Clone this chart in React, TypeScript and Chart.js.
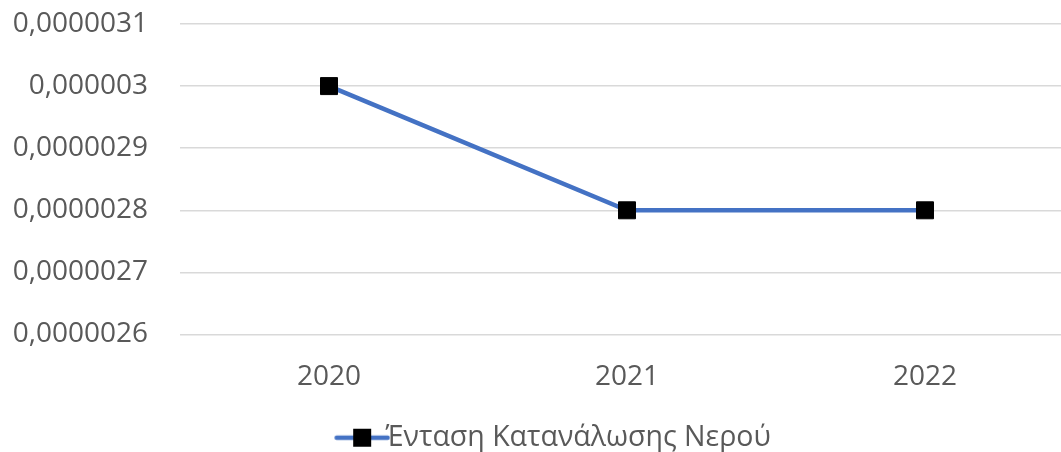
import React, { useEffect, useRef } from "react";
import { Chart, registerables } from "chart.js";

Chart.register(...registerables);

const categories = ["2020", "2021", "2022"];
const seriesName = "Ένταση Κατανάλωσης Νερού";
const seriesValues = [0.000003, 0.0000028, 0.0000028];
const yTicks = [0.0000026, 0.0000027, 0.0000028, 0.0000029, 0.000003, 0.0000031];

const FONT = "'Open Sans', 'Liberation Sans', sans-serif";
const TEXT = "#595959";
const BLUE = "#4472C4";

function formatTick(v: number): string {
  let s = v.toFixed(7).replace(/0+$/, "").replace(/\.$/, "");
  return s.replace(".", ",");
}

function legendImage(): HTMLCanvasElement {
  const c = document.createElement("canvas");
  c.width = 106;
  c.height = 20;
  const ctx = c.getContext("2d")!;
  ctx.strokeStyle = BLUE;
  ctx.lineWidth = 4.5;
  ctx.lineCap = "round";
  ctx.beginPath();
  ctx.moveTo(52.5, 10);
  ctx.lineTo(103.5, 10);
  ctx.stroke();
  ctx.fillStyle = "#000";
  ctx.fillRect(69, 1, 18, 18);
  return c;
}

export default function App() {
  const ref = useRef<HTMLCanvasElement | null>(null);

  useEffect(() => {
    document.body.style.margin = "0";
    document.body.style.overflow = "hidden";
    const img = legendImage();
    const chart = new Chart(ref.current!, {
      type: "line",
      data: {
        labels: categories,
        datasets: [
          {
            label: seriesName,
            data: seriesValues,
            borderColor: BLUE,
            backgroundColor: BLUE,
            borderWidth: 4.5,
            pointStyle: "rect",
            pointRadius: 12,
            pointBackgroundColor: "#000",
            pointBorderColor: "#000",
            pointBorderWidth: 1,
            tension: 0,
          },
        ],
      },
      options: {
        responsive: false,
        animation: false,
        devicePixelRatio: 1,
        layout: { autoPadding: false, padding: { top: 24, right: 1, left: 0, bottom: -10 } },
        plugins: {
          tooltip: { enabled: false },
          legend: {
            position: "bottom",
            labels: {
              usePointStyle: true,
              pointStyleWidth: 68,
              color: TEXT,
              font: { family: FONT, size: 28.5 },
              padding: 0,
              generateLabels: () => [
                {
                  text: seriesName,
                  fillStyle: BLUE,
                  strokeStyle: BLUE,
                  lineWidth: 0,
                  pointStyle: img,
                  datasetIndex: 0,
                  hidden: false,
                  fontColor: TEXT,
                },
              ],
            },
          },
        },
        scales: {
          x: {
            offset: true,
            afterFit: (scale: any) => {
              scale.height = 89;
            },
            grid: { display: false, drawTicks: false },
            border: { display: false },
            ticks: { color: TEXT, font: { family: FONT, size: 28 }, padding: 26 },
          },
          y: {
            min: yTicks[0],
            max: yTicks[yTicks.length - 1],
            afterBuildTicks: (scale: any) => {
              scale.ticks = yTicks.map((v) => ({ value: v }));
            },
            afterFit: (scale: any) => {
              scale.width = 180;
              scale.paddingTop = 0;
              scale.paddingBottom = 0;
            },
            grid: { color: "#D9D9D9", lineWidth: 1.5, drawTicks: false },
            border: { display: false },
            ticks: {
              color: TEXT,
              font: { family: FONT, size: 28 },
              padding: 32,
              callback: (v: any) => formatTick(Number(v)),
            },
          },
        },
      },
    } as any);
    return () => chart.destroy();
  }, []);

  return (
    <div style={{ position: "fixed", left: 0, top: 0, width: 1075, height: 452 }}>
      <canvas ref={ref} width={1075} height={452} />
    </div>
  );
}
